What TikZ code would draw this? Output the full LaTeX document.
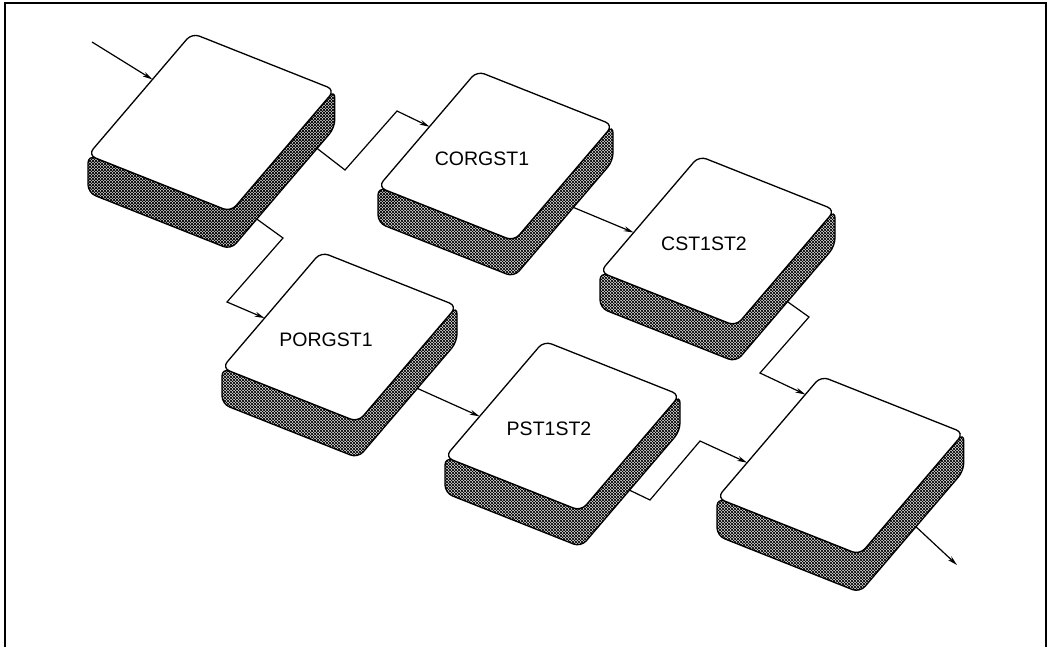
\documentclass[tikz,border=0pt]{standalone}
\usepackage{fontspec}
\setmainfont{Liberation Sans}
\usetikzlibrary{calc,patterns,arrows.meta}

% fine dark cross hatching for the slab sides
\pgfdeclarepatternformonly{slabhatch}{\pgfqpoint{-1pt}{-1pt}}{\pgfqpoint{4pt}{4pt}}{\pgfqpoint{3pt}{3pt}}{%
  \pgfsetlinewidth{0.7pt}
  \pgfpathmoveto{\pgfqpoint{0pt}{0pt}}\pgfpathlineto{\pgfqpoint{3pt}{3pt}}
  \pgfpathmoveto{\pgfqpoint{0pt}{3pt}}\pgfpathlineto{\pgfqpoint{3pt}{0pt}}
  \pgfusepath{stroke}}

\tikzset{
  slabside/.style={draw, line width=1.3pt, pattern=slabhatch, rounded corners=8pt},
  slabtop/.style={draw, line width=1.3pt, fill=white, rounded corners=8pt},
  slablabel/.style={font=\fontsize{19.5}{22}\selectfont},
  flow/.style={->, line width=1.2pt},
  >={Stealth[length=10pt,width=5pt]}
}

% slab: name, left corner, size, label
\newcommand{\slab}[4]{%
  \begin{scope}[shift={(#2)}, scale=#3]
    \coordinate (#1-l) at (0,0);
    \coordinate (#1-t) at (99,-116);
    \coordinate (#1-r) at (235,-62);
    \coordinate (#1-b) at (136,54);
    \coordinate (#1-bb) at (136,90);
    \coordinate (#1-rb) at (235,-26);
    \draw[slabside] (#1-l) -- (0,36) -- (#1-bb) -- (#1-rb) -- (#1-r) -- (#1-b) -- cycle;
    \draw[slabtop] (#1-l) -- (#1-t) -- (#1-r) -- (#1-b) -- cycle;
    \node[slablabel] (#1-txt) at (104,-28) {#4};
  \end{scope}}

\begin{document}
\begin{tikzpicture}[x=1pt, y=-1pt]
\useasboundingbox (0,0) rectangle (1050,647);

% Frame
\draw[line width=1.8pt] (5,647) -- (5,3) -- (1046,3) -- (1046,647);

% Slabs
\slab{s1}{88,155}{1.05}{}
\slab{s2}{378,187}{1}{CORGST1}
\slab{s3}{600,272}{1}{CST1ST2}
\slab{s4}{222,368}{1}{PORGST1}
\slab{s5}{445,457}{1}{PST1ST2}
\slab{s6}{717,498}{1.05}{}

% Flow
\coordinate (in) at (92,42);
\coordinate (out) at (957,565);
\draw[flow] (in) -- ($(s1-l)!.62!(s1-t)$);
\draw[flow] ($(s1-bb)!.83!(s1-rb)$) -- (345,170) -- (397,111) -- ($(s2-l)!.52!(s2-t)$);
\draw[flow] ($(s1-bb)!.25!(s1-rb)$) -- (283,238) -- (227,302) -- ($(s4-l)!.43!(s4-t)$);
\draw[flow] ($(s2-bb)!.6!(s2-rb)$) -- ($(s3-l)!.34!(s3-t)$);
\draw[flow] ($(s4-bb)!.6!(s4-rb)$) -- ($(s5-l)!.35!(s5-t)$);
\draw[flow] ($(s3-bb)!.52!(s3-rb)$) -- (809,317) -- (760,373) -- ($(s6-l)!.85!(s6-t)$);
\draw[flow] ($(s5-bb)!.49!(s5-rb)$) -- (650,500) -- (700,441) -- ($(s6-l)!.29!(s6-t)$);
\draw[flow] ($(s6-bb)!.54!(s6-rb)$) -- (out);

\end{tikzpicture}
\end{document}
